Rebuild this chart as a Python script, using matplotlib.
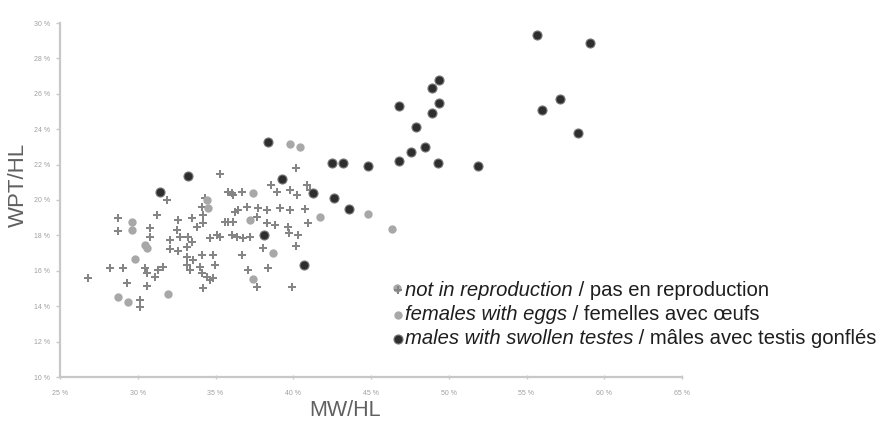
import matplotlib
matplotlib.use("Agg")
import matplotlib.pyplot as plt
from matplotlib.lines import Line2D
from matplotlib.offsetbox import TextArea, HPacker, AnchoredOffsetbox

plt.rcParams['font.family'] = ['Liberation Sans', 'DejaVu Sans']

# MW/HL (%) and WPT/HL (%)
nr_x = [35.29, 31.90, 36.04, 31.22, 32.61, 33.47, 34.20, 36.25, 28.75, 28.75,
        30.79, 30.79, 32.07, 32.50, 32.72, 33.25, 33.79, 34.20, 34.65, 35.29,
        35.80, 36.04, 36.36, 32.07, 32.61, 33.15, 33.47, 33.15, 33.57, 34.11,
        34.86, 28.22, 29.03, 30.47, 30.58, 31.32, 31.64, 31.11, 33.15, 33.36,
        34.00, 34.11, 34.43, 34.86, 26.82, 29.29, 30.58, 34.22, 30.14, 30.14,
        40.18, 38.55, 38.94, 39.79, 40.22, 40.86, 41.08, 35.82, 36.14, 36.68,
        34.32, 34.11, 36.47, 37.01, 37.75, 38.29, 39.15, 39.79, 40.76, 35.61,
        36.14, 37.65, 38.29, 38.83, 39.68, 39.75, 40.97, 40.32, 35.08, 36.79,
        37.22, 38.07, 40.18, 36.68, 34.97, 37.11, 38.40, 37.65, 39.90, 34.65]
nr_y = [21.47, 20.00, 20.38, 19.15, 18.87, 18.97, 19.15, 19.34, 18.97, 18.25,
        18.40, 17.93, 17.74, 18.31, 17.93, 17.93, 18.49, 18.70, 17.84, 17.93,
        18.77, 18.02, 17.93, 17.21, 17.14, 17.36, 17.64, 16.80, 16.61, 16.89,
        16.89, 16.14, 16.14, 16.14, 15.86, 16.05, 16.23, 15.67, 16.33, 16.05,
        16.23, 15.86, 15.67, 15.58, 15.58, 15.33, 15.14, 15.05, 14.35, 13.97,
        21.79, 20.85, 20.47, 20.56, 20.28, 20.85, 20.56, 20.47, 20.28, 20.47,
        20.10, 19.62, 19.43, 19.62, 19.53, 19.44, 19.53, 19.44, 19.47, 18.77,
        18.77, 19.06, 18.68, 18.59, 18.49, 18.11, 18.68, 18.02, 18.02, 17.84,
        17.93, 17.27, 17.42, 16.89, 16.33, 16.05, 16.14, 15.10, 15.10, 15.48]

fe_x = [34.43, 34.52, 29.61, 29.61, 30.47, 30.58, 29.82, 31.96, 28.75, 29.39,
        39.79, 40.43, 37.39, 41.72, 44.83, 46.33, 37.22, 38.72, 37.43, 46.65]
fe_y = [20.00, 19.55, 18.77, 18.31, 17.46, 17.27, 16.65, 14.67, 14.50, 14.25,
        23.16, 22.98, 20.41, 19.02, 19.21, 18.34, 18.87, 17.02, 15.52, 15.01]

ma_x = [55.65, 59.10, 49.40, 48.90, 46.80, 49.40, 48.90, 47.90, 57.15, 56.00,
        58.30, 47.60, 48.50, 46.80, 49.30, 51.90, 38.40, 42.50, 43.20, 44.80,
        39.30, 41.30, 42.60, 43.60, 38.10, 40.70, 33.25, 31.40]
ma_y = [29.30, 28.85, 26.80, 26.30, 25.30, 25.50, 24.90, 24.10, 25.70, 25.10,
        23.80, 22.70, 23.00, 22.20, 22.10, 21.90, 23.30, 22.10, 22.10, 21.90,
        21.20, 20.40, 20.10, 19.50, 18.00, 16.30, 21.36, 20.47]

x_ticks = [25, 30, 35, 40, 45, 50, 55, 60, 65]
y_ticks = [10, 12, 14, 16, 18, 20, 22, 24, 26, 28, 30]

legend_rows = [
    ("not in reproduction", " / pas en reproduction"),
    ("females with eggs", " / femelles avec \u0153ufs"),
    ("males with swollen testes", " / m\u00e2les avec testis gonfl\u00e9s"),
]

nr_style = dict(marker='P', markersize=6, color='#858585', markeredgewidth=0, linestyle='none')
fe_style = dict(marker='o', markersize=6, color='#a8a8a8', markeredgewidth=0, linestyle='none')
ma_style = dict(marker='o', markersize=6.5, color='#2e2e2e', markeredgecolor='#777777',
                markeredgewidth=0.8, linestyle='none')

fig = plt.figure(figsize=(8.8, 4.28), dpi=100)
ax = fig.add_axes([60 / 880, 51 / 428, 622 / 880, 354 / 428])

ax.plot(nr_x, nr_y, **nr_style)
ax.plot(fe_x, fe_y, **fe_style)
ax.plot(ma_x, ma_y, **ma_style)

ax.set_xlim(25, 65)
ax.set_ylim(10, 30)
ax.set_xticks(x_ticks)
ax.set_yticks(y_ticks)
ax.set_xticklabels([f"{v} %" for v in x_ticks])
ax.set_yticklabels([f"{v} %" for v in y_ticks])

for s in ['top', 'right']:
    ax.spines[s].set_visible(False)
for s in ['left', 'bottom']:
    ax.spines[s].set_color('#c8c8c8')
    ax.spines[s].set_linewidth(1.6)
ax.tick_params(axis='both', colors='#c8c8c8', labelcolor='#a0a0a0', labelsize=5,
               length=3, width=1)
ax.tick_params(axis='x', direction='inout', pad=8)
ax.tick_params(axis='y', direction='out', pad=4)

fig.text(345 / 880, 1 - 410 / 428, "MW/HL", fontsize=15.5, color='#606060',
         ha='center', va='center')
fig.text(18 / 880, 1 - 185 / 428, "WPT/HL", fontsize=16, color='#606060',
         ha='center', va='center', rotation=90)

# legend drawn by hand: italic English, regular French
styles = [nr_style, fe_style, ma_style]
for i, (en, fr) in enumerate(legend_rows):
    yy = 1 - (290 + i * 24.5) / 428
    fig.add_artist(Line2D([398 / 880], [yy], transform=fig.transFigure, **styles[i]))
    box = HPacker(children=[
        TextArea(en, textprops=dict(fontsize=14.6, style='italic', color='#1e1e1e')),
        TextArea(fr, textprops=dict(fontsize=14.6, color='#1e1e1e')),
    ], align='baseline', pad=0, sep=0)
    anchored = AnchoredOffsetbox(loc='center left', child=box, frameon=False, pad=0,
                                 borderpad=0, bbox_to_anchor=(405 / 880, yy),
                                 bbox_transform=fig.transFigure)
    ax.add_artist(anchored)

fig.savefig("out.png", dpi=100)
